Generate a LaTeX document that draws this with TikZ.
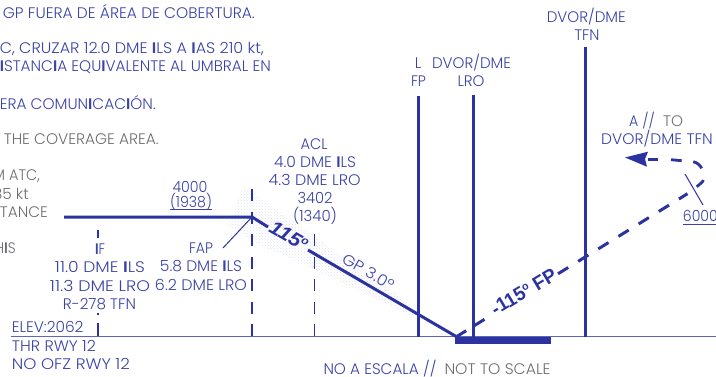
\documentclass[tikz,border=0pt]{standalone}
\usepackage{fontspec}
\usetikzlibrary{patterns,arrows.meta}
\setmainfont{Poppins Light}[BoldFont=Poppins SemiBold]
\newfontfamily\lab{Liberation Sans}
\definecolor{navy}{HTML}{2B33A0}
\definecolor{txtb}{HTML}{3A42A6}
\definecolor{gnd}{HTML}{5F66B8}
\definecolor{grey}{HTML}{6E6E72}
\definecolor{dotc}{HTML}{E0E2F3}
\newcommand{\II}{\textbf{I}}
\newcommand{\W}[2]{\resizebox{#1pt}{\height}{#2}}
\newcommand{\dg}{\raisebox{.62ex}{\fontsize{11}{11}\selectfont o}}
\tikzset{
  x=1pt,y=-1pt,
  txt/.style={text=txtb,font=\fontsize{15.3}{16}\selectfont,inner sep=0pt,anchor=center},
  ltxt/.style={txt,anchor=west},
  rtxt/.style={txt,anchor=east},
  gtxt/.style={rtxt,text=grey},
  heavy/.style={draw=navy,line width=3pt},
  thinl/.style={draw=navy,line width=1pt},
  mark dash/.style={draw=navy,line width=1.4pt,dash pattern=on 12pt off 10.5pt},
  fly dash/.style={draw=navy,line width=3pt,dash pattern=on 12pt off 11.7pt},
  lbl/.style={text=navy,inner sep=0pt,font=\lab\bfseries\fontsize{19.5}{20}\selectfont}
}
\begin{document}
\begin{tikzpicture}
\useasboundingbox (0,0) rectangle (716,376);
% shaded band
\fill[pattern=crosshatch dots,pattern color=dotc] (243,186)--(395,293)--(425,322)--(290,258)--(262,246)--(228,225)--cycle;

% coordinates
\coordinate (gl) at (11,336.5);
\coordinate (gr) at (716,336.5);
\coordinate (fs) at (64,217);
\coordinate (fap) at (252,217);
\coordinate (g1) at (268,227);
\coordinate (g2) at (308,250);
\coordinate (thr) at (457,337);
\coordinate (fapb) at (252,336);
\coordinate (fapt) at (252,186);
\coordinate (aclb) at (314.7,336);
\coordinate (aclt) at (314.7,233);
\coordinate (lb) at (418,337);
\coordinate (lt) at (418,96);
\coordinate (lrob) at (473,337);
\coordinate (lrot) at (473,95);
\coordinate (tfnb) at (585,337);
\coordinate (tfnt) at (585,47);
\coordinate (ma0) at (456,337);
\coordinate (ma1) at (485.5,318.7);
\coordinate (ma2) at (558,273.8);
\coordinate (ma3) at (687.5,193.7);
\coordinate (c1) at (696.7,186.7);
\coordinate (c2) at (703.3,180);
\coordinate (c3) at (701.7,168.3);
\coordinate (c4) at (693.3,161.7);
\coordinate (c5) at (681.7,160.7);
\coordinate (c6) at (671,159.7);
\coordinate (c7) at (658,159.3);
\coordinate (c8) at (648,159.3);
\coordinate (tip) at (625,157.5);

% ground
\draw[gnd,line width=1.5pt] (gl)--(gr);
% verticals
\draw[heavy] (lb)--(lt);
\draw[heavy] (lrob)--(lrot);
\draw[heavy] (tfnb)--(tfnt);
\draw[mark dash] (fapb)--(fapt);
\draw[mark dash] (aclb)--(aclt);
\draw[draw=navy,line width=1.2pt] (98,230)--(98,238) (98,313)--(98,314.5) (98,323)--(98,336);
% profile
\draw[heavy] (fs)--(fap)--(g1);
\draw[heavy] (g2)--(thr);
\draw[thinl] (fap)--(223,248);
% runway
\fill[navy] (455,337) rectangle (551,344);
% missed approach
\draw[fly dash,dash pattern=on 12pt off 9.5pt] (ma0)--(ma1);
\draw[fly dash] (ma2)--(ma3);
\draw[heavy,line width=2.8pt] (c1)..controls (700,184) and (703,182) ..(c2);
\draw[heavy,line width=2.8pt] (c3)..controls (700,165) and (697,162.5) ..(c4);
\draw[heavy,line width=2.8pt] (c5)--(c6);
\draw[heavy,line width=2.8pt] (c7)--(c8);
\fill[navy] (tip)--(648,151.7)--(645,159)--(647,166.7)--cycle;
\draw[thinl] (685,174)--(703,205);

% labels on lines
\node[lbl,rotate=-30] (n115) at (289,236) {\W{41}{\textit{115\dg}}};
\node[lbl,rotate=31] (nfp) at (523.7,291.7) {\W{73}{-115\dg\ FP}};
\node[txt,rotate=-30] (ngp) at (368.3,271.7) {\W{57}{GP 3.0º}};

% top notes
\node[rtxt] (a1) at (255,12) {\W{252}{GP FUERA DE ÁREA DE COBERTURA.}};
\node[rtxt] (a2) at (264,49) {\W{264}{C, CRUZAR 12.0 DME \II LS A \II AS 210 kt,}};
\node[rtxt] (a3) at (271,67) {\W{271}{\II STANC\II A EQU\II VALENTE AL UMBRAL EN}};
\node[rtxt] (a4) at (156,103) {\W{156}{ERA COMUN\II CAC\II ÓN.}};
\node[gtxt] (b1) at (159,139) {\W{155}{THE COVERAGE AREA.}};
\node[gtxt] (b2) at (40,176) {\W{47}{M ATC,}};
\node[gtxt] (b3) at (29,194) {\W{36}{85 kt}};
\node[gtxt] (b4) at (48,212) {\W{48}{TANCE}};
\node[gtxt] (b5) at (16,248) {\W{21}{H\II S}};

% FAP / IF
\node[txt] (alt) at (190,186.5) {\W{35}{4000}};
\node[txt] (alt2) at (191,202) {\W{42}{(1938)}};
\draw[txtb,line width=.8pt] (170,209.7)--(212,209.7);
\node[txt] (if) at (100,249) {\W{10}{\II F}};
\node[txt] (if1) at (100,267) {\W{90}{11.0 DME \II LS}};
\node[txt] (if2) at (100,285.5) {\W{100}{11.3 DME LRO}};
\node[txt] (if3) at (99.5,304) {\W{73}{R-278 TFN}};
\node[txt] (f0) at (201,248) {\W{24}{FAP}};
\node[txt] (f1) at (201,266.5) {\W{82}{5.8 DME \II LS}};
\node[txt] (f2) at (201,285) {\W{92}{6.2 DME LRO}};
% ACL
\node[txt] (c0) at (314,144) {\W{27}{ACL}};
\node[txt] (c1t) at (315,161.5) {\W{82}{4.0 DME \II LS}};
\node[txt] (c2t) at (314.7,179.5) {\W{92}{4.3 DME LRO}};
\node[txt] (c3t) at (315,198) {\W{35}{3402}};
\node[txt] (c4t) at (315,216) {\W{44}{(1340)}};
% threshold
\node[ltxt] (e0) at (11.7,327) {\W{71.6}{ELEV:2062}};
\node[ltxt] (e1) at (11.7,346) {\W{84}{THR RWY 12}};
\node[ltxt] (e2) at (11.7,364) {\W{118}{NO OFZ RWY 12}};
% stations
\node[txt] (s1) at (418,63) {L};
\node[txt] (s2) at (418.5,81) {\W{15}{FP}};
\node[txt] (s3) at (471.5,63) {\W{79}{DVOR/DME}};
\node[txt] (s4) at (471,81) {\W{27}{LRO}};
\node[txt] (s5) at (586.3,17) {\W{79}{DVOR/DME}};
\node[txt] (s6) at (587,35) {\W{25}{TFN}};
% to
\node[rtxt] (t1) at (655,121) {\W{25.7}{A //}};
\node[gtxt] (t2) at (683.3,121) {\W{20}{TO}};
\node[txt] (t3) at (657,139) {\W{111.7}{DVOR/DME TFN}};
\node[ltxt] (k) at (682.7,216) {\W{35}{6000}};
\draw[txtb,line width=.8pt] (682.5,224)--(716,224);
% scale
\node[ltxt] (sc1) at (323.3,369) {\W{113}{NO A ESCALA //}};
\node[rtxt,text=grey] (sc2) at (550.7,369) {\W{106}{NOT TO SCALE}};
\end{tikzpicture}
\end{document}
